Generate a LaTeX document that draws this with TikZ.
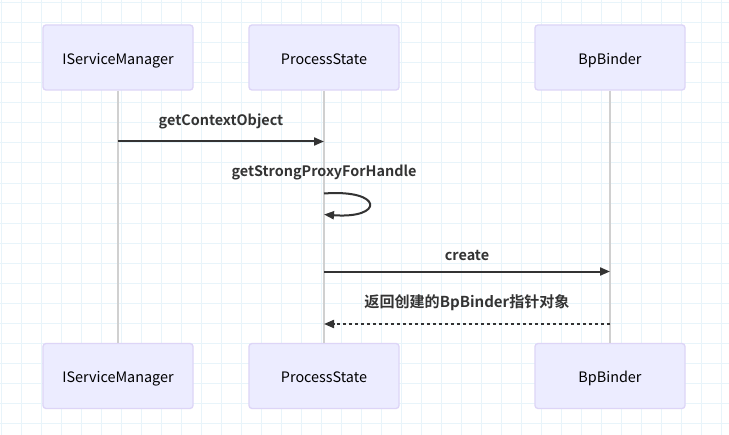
\documentclass[tikz,border=0pt]{standalone}
\usepackage{fontspec}
\setmainfont{Noto Sans CJK SC}[BoldFont={Noto Sans CJK SC Bold}]
\usetikzlibrary{arrows.meta}
\definecolor{gridc}{RGB}{232,244,250}
\definecolor{actfill}{RGB}{236,236,255}
\definecolor{actdraw}{RGB}{221,213,247}
\definecolor{lifec}{RGB}{208,208,208}
\definecolor{msgc}{RGB}{51,51,51}
\begin{document}
\begin{tikzpicture}[x=0.75pt,y=-0.75pt,
  actor/.style={draw=actdraw,fill=actfill,line width=1pt,rounded corners=2.25pt,
    minimum width=112.5pt,minimum height=48.75pt,inner sep=0pt,
    text height=10.3pt,text depth=0.3pt,
    font=\fontsize{10.8}{13}\selectfont,text=black},
  lifeline/.style={draw=lifec,line width=1.5pt},
  msg/.style={draw=msgc,line width=1.5pt,-{Triangle[length=7.5pt,width=6pt]}},
  reply/.style={msg,dash pattern=on 2.25pt off 2.25pt},
  lbl/.style={font=\fontsize{10.8}{13}\selectfont\bfseries,text=msgc,inner sep=0pt},
  cjklbl/.style={lbl,font=\fontsize{11.3}{13}\selectfont\bfseries},
  gridline/.style={draw=gridc,line width=0.75pt}]
\useasboundingbox (0,0) rectangle (729,435);
\fill[white] (0,0) rectangle (729,435);
\foreach \x in {1,21,...,721} \draw[gridline] (\x,0) -- (\x,435);
\foreach \y in {3,23,...,423} \draw[gridline] (0,\y) -- (729,\y);
% actors
\node[actor] (ism) at (118,57.5) {IServiceManager};
\node[actor] (ps) at (324,57.5) {ProcessState};
\node[actor] (bp) at (610,57.5) {BpBinder};
\node[actor] (ismb) at (118,376) {IServiceManager};
\node[actor] (psb) at (324,376) {ProcessState};
\node[actor] (bpb) at (610,376) {BpBinder};
% lifelines
\draw[lifeline] (ism) -- (ismb);
\draw[lifeline] (ps) -- (psb);
\draw[lifeline] (bp) -- (bpb);
% message anchor points
\coordinate (a1) at (118,141.5);
\coordinate (b1) at (324,141.5);
\coordinate (s1) at (324,193.5);
\coordinate (s2) at (324,214.5);
\coordinate (a3) at (324,271.5);
\coordinate (b3) at (610,271.5);
\coordinate (a4) at (610,324);
\coordinate (b4) at (324,324);
% messages
\draw[msg] (a1) -- (b1);
\node[lbl] (l1) at (221,121) {getContextObject};
\draw[msg] (s1) .. controls (384,189) and (384,219) .. (s2);
\node[lbl] (l2) at (324,173) {getStrongProxyForHandle};
\draw[msg] (a3) -- (b3);
\node[lbl] (l3) at (467,255) {create};
\draw[reply] (a4) -- (b4);
\node[cjklbl] (l4) at (467,302.5) {返回创建的BpBinder指针对象};
\end{tikzpicture}
\end{document}
